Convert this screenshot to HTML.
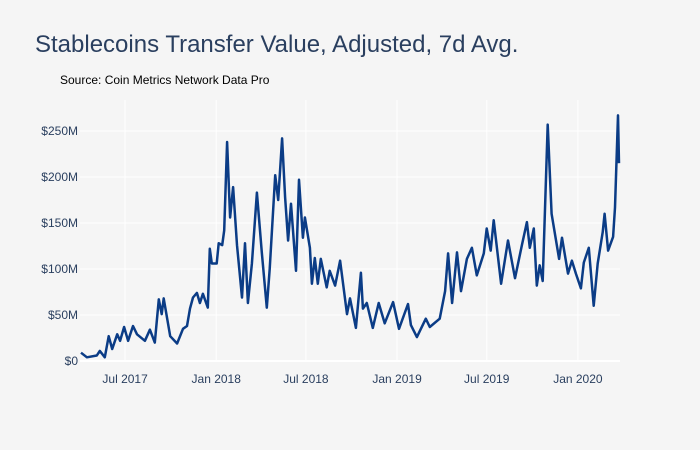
<!DOCTYPE html>
<html><head><meta charset="utf-8"><style>
body{margin:0;background:#f5f5f5;}
svg{display:block;font-family:"Liberation Sans",sans-serif;}
</style></head><body>
<svg id="chart" width="700" height="450">
<rect width="700" height="450" fill="#f5f5f5"/>
<text x="35" y="52" font-size="24" fill="#2a3f5f">Stablecoins Transfer Value, Adjusted, 7d Avg.</text>
<text x="60" y="84" font-size="12" fill="#000">Source: Coin Metrics Network Data Pro</text>
<g id="grid"></g><g id="axes"></g><g id="series"></g>
</svg>
<script>
// days since 2017-04-01
const days=[2,14,34,40,50,58,65,75,81,89,97,107,115,131,141,151,159,165,169,182,196,208,216,222,228,236,242,248,258,262,266,276,280,287,291,297,303,309,317,327,333,339,347,357,367,377,383,394,400,408,414,420,426,436,442,450,454,464,468,474,480,486,498,504,515,525,539,545,557,567,571,579,591,603,615,632,644,662,668,680,698,706,726,737,743,751,761,769,781,791,801,815,821,829,835,850,864,878,892,902,908,916,922,928,934,944,952,967,973,985,993,1001,1011,1017,1027,1037,1045,1055,1059,1066,1076,1080,1086,1088];
// values in $M
const values=[9,4,6,11,4,27,13,29,22,37,22,38,29,22,34,20,67,51,68,27,19,35,38,57,69,74,63,73,58,122,106,106,128,126,142,238,156,189,126,69,128,63,106,183,118,58,100,202,175,242,178,131,171,98,197,134,156,123,84,112,84,111,80,98,82,109,51,68,36,96,57,63,36,63,41,64,35,62,39,26,46,37,46,76,117,63,118,76,111,123,93,117,144,120,153,84,131,90,126,151,123,144,82,104,87,257,160,111,134,95,109,95,79,107,123,60,106,140,160,120,135,167,267,215];
const yTicks=[0,50,100,150,200,250];
const yTickLabels=["$0","$50M","$100M","$150M","$200M","$250M"];
const xTickDays=[91,275,456,640,821,1005];
const xTickLabels=["Jul 2017","Jan 2018","Jul 2018","Jan 2019","Jul 2019","Jan 2020"];
const X0=80,X1=620,Y0=361,Y250=131,DMAX=1090;
const xs=d=>X0+d*(X1-X0)/DMAX;
const ys=v=>Y0-v*(Y0-Y250)/250;
const NS="http://www.w3.org/2000/svg";
const grid=document.getElementById('grid'),axes=document.getElementById('axes'),ser=document.getElementById('series');
function mk(tag,attrs,parent){const e=document.createElementNS(NS,tag);for(const k in attrs)e.setAttribute(k,attrs[k]);parent.appendChild(e);return e;}
yTicks.forEach((v,i)=>{
  const l=mk('line',{x1:X0,x2:X1,y1:ys(v),y2:ys(v),stroke:'#fff','stroke-width':v===0?2:1},grid);
  
  
  const t=mk('text',{x:X0-2,y:ys(v)+4,'text-anchor':'end','font-size':12,fill:'#2a3f5f'},axes);
  t.textContent=yTickLabels[i];
  
  
});
xTickDays.forEach((d,i)=>{
  const l=mk('line',{x1:xs(d),x2:xs(d),y1:100,y2:Y0,stroke:'#fff','stroke-width':1},grid);
  
  
  const t=mk('text',{x:xs(d),y:Y0+22,'text-anchor':'middle','font-size':12,fill:'#2a3f5f'},axes);
  t.textContent=xTickLabels[i];
  
  
});
const p=mk('path',{d:days.map((d,i)=>(i?'L':'M')+xs(d).toFixed(1)+','+ys(values[i]).toFixed(1)).join(''),fill:'none',stroke:'#0b3c86','stroke-width':2.5,'stroke-linejoin':'round'},ser);


</script>
</body></html>
